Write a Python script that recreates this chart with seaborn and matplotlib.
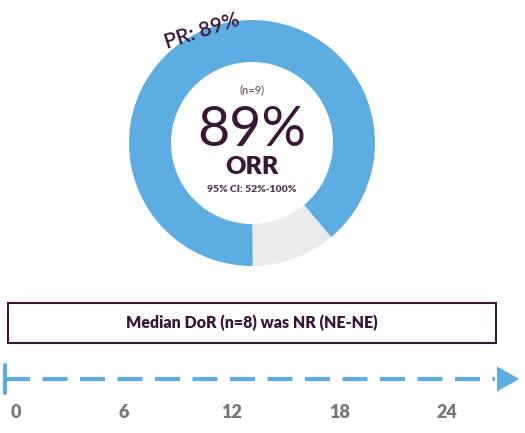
import matplotlib
matplotlib.use("Agg")
import matplotlib.pyplot as plt
import seaborn as sns
from matplotlib.patches import Rectangle

# data
labels = ["PR", "None"]
shares = [89, 11]
colors = ["#5dade2", "#ebebeb"]
months = [0, 6, 12, 18, 24]
dor_text = "Median DoR (n=8) was NR (NE-NE)"

sns.set_style("white")
plt.rcParams["font.family"] = ["Lato", "DejaVu Sans"]
purple = "#3b1737"
blue = "#5dade2"

fig = plt.figure(figsize=(5.25, 4.33), dpi=100)
ax = fig.add_axes([0, 0, 1, 1])

def Y(py):
    return 433 - py

# donut
cx, cy, r = 252, Y(143), 123
ax.pie(shares, colors=colors, startangle=310, counterclock=True,
       center=(cx, cy), radius=r, wedgeprops=dict(width=42, linewidth=0),
       frame=True)
ax.set_xlim(0, 525)
ax.set_ylim(0, 433)
ax.set_aspect("equal")
ax.axis("off")

ax.text(202, Y(31), f"PR: {shares[0]}%", rotation=18, ha="center", va="center",
        fontsize=15, color=purple, fontweight="semibold")
ax.text(252, Y(90), "(n=9)", ha="center", va="center", fontsize=8, color="#6b5a68",
        fontweight="semibold")
ax.text(252, Y(130), f"{shares[0]}%", ha="center", va="center", fontsize=40,
        color=purple, fontweight="normal")
ax.text(252, Y(167), "ORR", ha="center", va="center", fontsize=18,
        color=purple, fontweight="heavy")
ax.text(252, Y(190), "95% CI: 52%-100%", ha="center", va="center", fontsize=7.5,
        color="#4d3a4a", fontweight="heavy")

# DoR box
ax.add_patch(Rectangle((8, Y(343)), 488, 40, fill=False, edgecolor=purple, linewidth=1.5))
ax.text(252, Y(323), dor_text, ha="center", va="center", fontsize=11.5,
        color=purple, fontweight="heavy")

# timeline
x0, x24 = 16, 447
px = [x0 + m * (x24 - x0) / 24 for m in months]
ty = Y(379)
ax.plot([5, 495], [ty, ty], color=blue, linewidth=3, linestyle=(0, (6, 3)))
ax.plot([5, 5], [ty - 14, ty + 14], color=blue, linewidth=3)
ax.annotate("", xy=(522, ty), xytext=(490, ty),
            arrowprops=dict(arrowstyle="-|>,head_length=1.6,head_width=0.9",
                            color=blue, lw=0))
for m, x in zip(months, px):
    ax.text(x, Y(412), str(m), ha="center", va="center", fontsize=13,
            color="#777777", fontweight="heavy")

fig.savefig("out.png", dpi=100)
